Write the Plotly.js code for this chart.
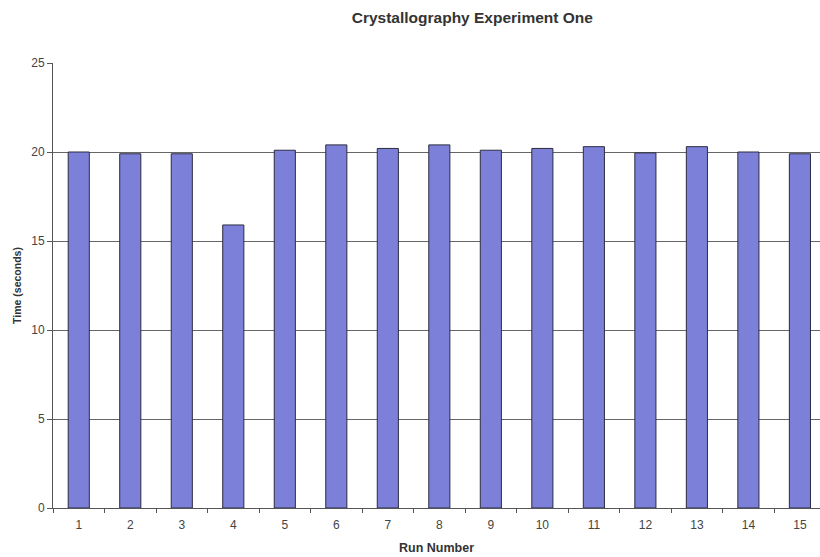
<!DOCTYPE html>
<html><head><meta charset="utf-8">
<script src="https://cdn.plot.ly/plotly-3.0.1.min.js"></script>
<style>html,body{margin:0;padding:0;overflow:hidden;background:#fff}#c{width:820px;height:557px}</style>
</head><body><div id="c"></div>
<script>
const runs = ["1","2","3","4","5","6","7","8","9","10","11","12","13","14","15"];
const times = [20.0, 19.9, 19.9, 15.9, 20.1, 20.4, 20.2, 20.4, 20.1, 20.2, 20.3, 19.95, 20.3, 20.0, 19.9];
const yTicks = [0, 5, 10, 15, 20, 25];

const narrow = 'Liberation Sans Narrow, Arial Narrow, Liberation Sans, sans-serif';
const bold = 'Liberation Sans, Arial, sans-serif';

Plotly.newPlot('c', [{
  type: 'bar', x: runs, y: times, width: 0.41,
  marker: {color: '#7c80d9', line: {color: '#2b2b40', width: 1}},
  hoverinfo: 'skip'
}], {
  width: 820, height: 557,
  margin: {l: 53, r: 0, t: 63, b: 49},
  paper_bgcolor: '#ffffff', plot_bgcolor: '#ffffff',
  showlegend: false,
  title: {text: '<b>Crystallography Experiment One</b>', x: 0.576, xref: 'container', xanchor: 'center',
          y: 0.968, yref: 'container', yanchor: 'middle',
          font: {family: bold, size: 15.5, color: '#333'}},
  xaxis: {type: 'category', range: [-0.5, 14.39], tickson: 'boundaries', ticks: 'outside', ticklen: 4,
          tickcolor: '#555', showgrid: false, showline: true, linecolor: '#555', linewidth: 1,
          ticklabelstandoff: 6,
          tickfont: {family: narrow, size: 12, color: '#444'},
          title: {text: '<b>Run Number</b>', standoff: 11, font: {family: bold, size: 12.5, color: '#333'}},
          fixedrange: true},
  yaxis: {range: [0, 25], tickvals: yTicks, ticks: 'outside', ticklen: 5, tickcolor: '#555',
          showgrid: true, gridcolor: '#666', gridwidth: 1, zeroline: false,
          showline: true, linecolor: '#555', linewidth: 1,
          tickfont: {family: narrow, size: 12, color: '#444'},
          title: {text: '<b>Time (seconds)</b>', standoff: 7, font: {family: bold, size: 10.5, color: '#333'}},
          fixedrange: true},
  bargap: 0.59
}, {staticPlot: true});
</script></body></html>
